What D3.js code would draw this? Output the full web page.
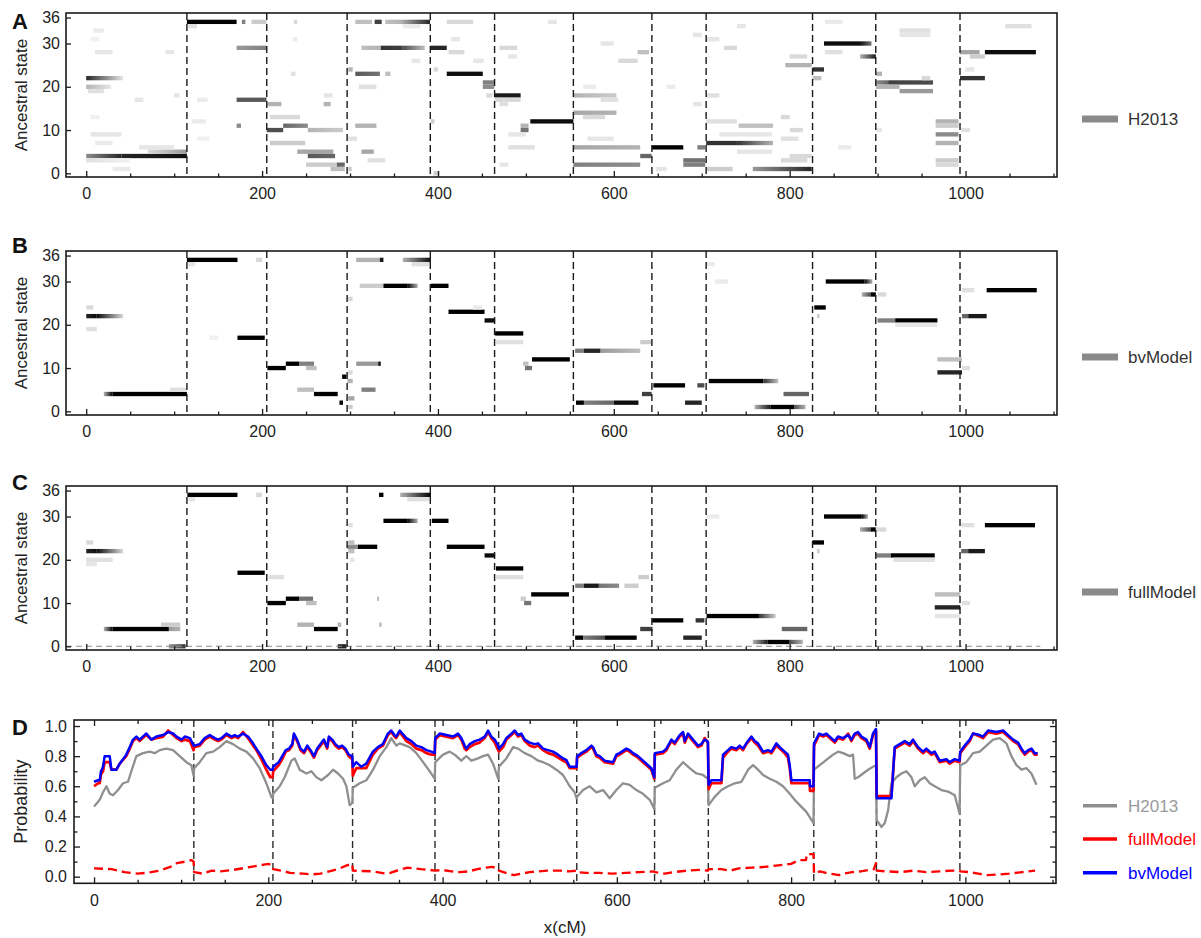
<!DOCTYPE html>
<html>
<head>
<meta charset="utf-8">
<script src="https://cdn.jsdelivr.net/npm/d3@7"></script>
<style>
  body { margin: 0; background: #fff; }
  svg { display: block; }
</style>
</head>
<body>
<svg id="chart" width="1201" height="938"></svg>
<script>
// ---------------- data ----------------
// chromosome boundaries (cM)
const boundaries = [114.5, 205.3, 296.7, 391.3, 464.4, 554, 643.3, 705, 826, 897.9, 993.7];
const xTickValues = [0, 200, 400, 600, 800, 1000];
const stateTickValues = [0, 10, 20, 30, 36];
const probTickValues = [0, 0.2, 0.4, 0.6, 0.8, 1.0];

// posterior of each ancestral state along the genome:
// [state, start cM, end cM, prob at start, prob at end]
const heatH2013 = [
  [22, 0, 42, .85, .1], [20, 0, 28, .3, .1], [19, 2, 20, .12, .12],
  [4, 0, 40, .45, .85], [4, 40, 114.5, .85, .95], [5, 70, 114.5, .15, .4], [3, 0, 50, .12, .05],
  [33, 8, 20, .08, .08], [31, 5, 15, .06, .06], [28, 10, 30, .1, .1], [28, 90, 100, .1, .1],
  [17, 55, 65, .1, .1], [13, 5, 15, .06, .06], [9, 5, 40, .1, .1], [7, 10, 30, .08, .08],
  [6, 60, 100, .1, .1], [1, 30, 50, .08, .08], [18, 100, 106, .1, .1],
  [35, 114.5, 171, 1, 1], [35, 177, 181, .5, .5], [35, 188, 205, .2, .2], [34, 116, 126, .12, .12],
  [29, 171, 205, .4, .5], [17, 171, 205, .65, .65], [11, 171, 176, .45, .45],
  [17, 126, 138, .08, .08], [12, 120, 136, .08, .08], [8, 126, 140, .06, .06],
  [16, 206, 222, .3, .3], [10, 205.3, 224, .7, .7], [11, 224, 252, .6, .45], [10, 252, 292, .3, .2],
  [13, 209, 243, .15, .15], [7, 209, 249, .2, .2], [5, 240, 281, .35, .35], [4, 252, 283, .65, .6],
  [2, 250, 285, .2, .2], [2, 285, 294, .6, .6], [1, 278, 294, .25, .25], [16, 270, 278, .3, .3],
  [18, 270, 280, .1, .1], [35, 236, 240, .15, .15], [31, 235, 240, .08, .08], [23, 233, 238, .12, .12],
  [35, 306, 325, .25, .25], [35, 328, 336, .75, .75], [35, 340, 358, .25, .3], [35, 358, 391, .3, .85],
  [34, 360, 380, .08, .08], [29, 313, 335, .25, .3], [29, 335, 360, .8, .75], [29, 360, 385, .7, .25],
  [23, 306, 334, .65, .55], [23, 340, 346, .25, .25], [24, 298, 303, .3, .3], [20, 310, 330, .12, .12],
  [11, 306, 330, .3, .3], [5, 313, 327, .35, .35], [3, 320, 340, .12, .12], [8, 298, 308, .12, .12],
  [1, 298, 302, .2, .2], [26, 370, 380, .1, .1],
  [29, 391.3, 410, .85, .85], [23, 410, 451, .95, .95], [21, 451, 464, .5, .5], [20, 451, 464, .45, .45],
  [35, 410, 440, .15, .15], [31, 415, 425, .1, .1], [28, 412, 430, .15, .15], [26, 440, 452, .1, .1],
  [24, 395, 400, .15, .15], [12, 392, 396, .2, .2], [0, 395, 402, .2, .2], [18, 455, 462, .15, .15],
  [18, 464.4, 494, .9, .9], [17, 464.4, 494, .15, .15], [11, 494, 503, .3, .3], [10, 494, 503, .55, .55],
  [12, 505, 554, .95, .95], [35, 525, 535, .1, .1], [29, 470, 490, .15, .15], [27, 480, 490, .1, .1],
  [16, 470, 480, .12, .12], [9, 480, 500, .1, .1], [6, 480, 510, .12, .12], [2, 470, 480, .1, .1],
  [18, 554, 603, .3, .2], [14, 554, 603, .35, .3], [6, 554, 630, .35, .3], [4, 630, 643, .6, .6],
  [2, 554, 630, .5, .45], [28, 627, 640, .25, .25], [26, 605, 627, .15, .15], [30, 585, 600, .1, .1],
  [17, 585, 605, .12, .12], [13, 565, 590, .15, .15], [8, 570, 600, .1, .1], [20, 565, 580, .08, .08],
  [6, 643.3, 679, 1, 1], [6, 695, 704, .5, .5], [3, 679, 704, .55, .55], [2, 679, 704, .5, .5],
  [32, 690, 700, .1, .1], [20, 660, 670, .08, .08], [16, 690, 700, .1, .1], [1, 648, 660, .1, .1],
  [7, 705, 740, .8, .8], [7, 740, 781, .8, .3], [11, 742, 781, .25, .25], [1, 705, 735, .2, .2],
  [1, 758, 825, .4, .85], [25, 795, 825, .3, .3], [29, 725, 740, .15, .15], [31, 705, 720, .1, .1],
  [34, 740, 750, .1, .1], [18, 705, 720, .12, .12], [12, 705, 740, .12, .12], [9, 720, 780, .1, .1],
  [5, 740, 780, .1, .1], [3, 790, 820, .15, .15], [4, 800, 825, .15, .15], [8, 790, 810, .12, .12],
  [10, 800, 815, .15, .15], [27, 800, 820, .15, .15], [13, 790, 800, .15, .15],
  [24, 826, 839, .8, .8], [30, 839, 880, .95, .95], [30, 880, 893, .95, .55], [27, 880, 898, .3, .9],
  [22, 826, 836, .25, .25], [35, 840, 860, .08, .08], [28, 840, 860, .12, .12], [6, 855, 870, .08, .08],
  [21, 898, 912, .45, .6], [21, 912, 963, .75, .7], [20, 898, 925, .3, .3], [19, 925, 963, .4, .4],
  [23, 898, 905, .3, .3], [33, 925, 960, .12, .12], [32, 925, 960, .1, .1], [22, 950, 960, .15, .15],
  [12, 966, 992, .3, .3], [11, 966, 992, .2, .2], [9, 966, 992, .45, .45], [7, 966, 992, .3, .3],
  [3, 966, 992, .2, .2], [2, 966, 992, .15, .15], [10, 898, 905, .1, .1],
  [28, 993.7, 1016, .35, .35], [27, 1005, 1022, .2, .2], [22, 993.7, 1022, .8, .8], [28, 1022, 1080, .95, .95],
  [34, 1045, 1075, .12, .12], [24, 1000, 1010, .1, .1], [10, 995, 1005, .12, .12]
];

const heatBvModel = [
  [22, 0, 12, .85, .95], [22, 12, 42, .95, .15], [24, 0, 8, .15, .15], [19, 0, 12, .12, .12],
  [4, 20, 30, .3, 1], [4, 30, 114.5, 1, 1], [5, 95, 114, .12, .12],
  [35, 114.5, 172, 1, 1], [35, 193, 200, .15, .15], [34, 116, 124, .1, .1],
  [17, 172, 203, 1, 1], [17, 140, 150, .06, .06],
  [10, 206, 227, 1, 1], [11, 227, 242, 1, 1], [11, 242, 259, .5, .5], [10, 250, 262, .25, .25],
  [5, 240, 259, .25, .25], [4, 259, 286, 1, 1], [2, 288, 292, 1, 1], [8, 291, 296, 1, 1],
  [35, 307, 334, .3, .3], [35, 334, 338, .9, .9], [35, 360, 392, .3, .95], [34, 370, 390, .12, .12],
  [29, 311, 338, .2, .2], [29, 338, 365, 1, 1], [29, 365, 377, 1, .3],
  [11, 307, 332, .4, .4], [11, 332, 335, .9, .9], [5, 313, 329, .5, .5],
  [26, 297, 303, .15, .15], [7, 297, 303, .3, .3], [3, 298, 305, .35, .35], [1, 298, 303, .2, .2], [9, 298, 303, .15, .15],
  [29, 392, 412, 1, 1], [23, 412, 453, 1, 1], [21, 453, 465, .95, .95], [24, 440, 450, .08, .08],
  [18, 465, 497, 1, 1], [16, 466, 497, .12, .12], [10, 499, 507, .55, .55], [11, 497, 503, .25, .25], [12, 507, 550, 1, 1],
  [14, 556, 566, .5, .5], [14, 566, 585, .85, .85], [14, 585, 630, .4, .25], [16, 630, 643, .2, .2],
  [2, 557, 566, 1, 1], [2, 566, 600, .5, .6], [2, 600, 628, .95, .95], [4, 632, 643, .75, .75],
  [6, 645, 681, 1, 1], [6, 695, 703, .7, .7], [2, 681, 700, .85, .85],
  [7, 708, 770, 1, 1], [7, 770, 787, .8, .25], [4, 793, 822, .6, .6],
  [1, 760, 778, .3, .9], [1, 778, 805, 1, 1], [1, 805, 818, .7, .3],
  [34, 705, 715, .08, .08], [30, 715, 730, .08, .08],
  [24, 828, 841, 1, 1], [22, 831, 834, .2, .2], [30, 841, 885, 1, 1], [30, 885, 894, 1, .3],
  [27, 882, 892, .3, .7], [27, 892, 898, 1, 1], [27, 900, 910, .15, .15],
  [21, 900, 920, .5, .5], [21, 920, 968, 1, 1], [20, 920, 968, .1, .1],
  [12, 968, 996, .25, .25], [9, 968, 996, .85, .85], [10, 996, 1005, .12, .12],
  [22, 996, 1003, .6, .6], [22, 1003, 1024, .9, .9], [28, 996, 1010, .12, .12], [28, 1024, 1081, 1, 1]
];

const heatFullModel = [
  [22, 0, 12, .85, .95], [22, 12, 42, .95, .15], [24, 0, 8, .15, .15], [20, 0, 30, .12, .12], [19, 0, 12, .1, .1],
  [4, 20, 30, .3, 1], [4, 30, 94, 1, 1], [4, 94, 107, .4, .3], [5, 85, 107, .2, .2], [0, 94, 113, .4, .8],
  [35, 115, 172, 1, 1], [35, 193, 200, .15, .15], [34, 116, 124, .1, .1], [17, 172, 203, 1, 1],
  [10, 206, 227, 1, 1], [11, 227, 242, 1, 1], [11, 242, 258, .55, .55], [10, 250, 262, .25, .25],
  [16, 207, 225, .12, .12], [5, 240, 259, .3, .3], [4, 259, 286, 1, 1], [5, 286, 290, .3, .3], [0, 286, 296, .85, .85],
  [23, 297, 309, .45, .45], [24, 298, 305, .25, .25], [22, 298, 305, .25, .25], [23, 309, 331, 1, 1],
  [35, 333, 338, 1, 1], [35, 357, 392, .3, 1], [34, 365, 390, .12, .12],
  [29, 338, 365, 1, 1], [29, 365, 377, 1, .3], [11, 331, 333, .3, .3], [5, 333, 336, .25, .25],
  [28, 298, 303, .12, .12], [20, 300, 305, .1, .1],
  [29, 393, 412, 1, 1], [23, 410, 453, 1, 1], [21, 453, 465, .95, .95],
  [18, 466, 497, 1, 1], [16, 466, 497, .12, .12], [11, 494, 500, .2, .2], [10, 498, 506, .55, .55], [12, 506, 549, 1, 1],
  [14, 556, 566, .5, .5], [14, 566, 583, .9, .9], [14, 583, 606, .55, .45], [14, 612, 628, .2, .2], [16, 628, 640, .2, .2],
  [2, 556, 565, 1, 1], [2, 565, 590, .5, .7], [2, 590, 626, 1, 1], [4, 630, 644, .75, .75],
  [6, 643.5, 679, 1, 1], [6, 693, 703, .8, .8], [2, 679, 700, .85, .85],
  [7, 705.5, 765, 1, 1], [7, 765, 784, .8, .2], [4, 791, 820, .6, .6],
  [1, 758, 775, .3, .9], [1, 775, 800, 1, 1], [1, 800, 815, .7, .3], [30, 705, 720, .08, .08],
  [24, 826, 839, 1, 1], [22, 831, 834, .2, .2], [30, 839, 882, 1, 1], [30, 882, 889, 1, .3],
  [27, 880, 892, .3, .7], [27, 892, 898, 1, 1], [27, 898, 910, .15, .15],
  [21, 898, 915, .5, .5], [21, 915, 965, 1, 1], [20, 918, 965, .12, .12],
  [12, 965, 994, .25, .25], [9, 965, 994, .85, .85], [7, 965, 994, .1, .1], [10, 996, 1005, .12, .12],
  [22, 995, 1003, .6, .6], [22, 1003, 1022, .9, .9], [28, 995, 1010, .12, .12], [28, 1022, 1079, 1, 1]
];

// probability of the called ancestral state: [cM, probability]
const probH2013 = [
  [0,.465],[6.5,.51],[10.3,.56],[14.2,.60],[18,.55],[21.8,.54],[27.5,.575],[33.3,.62],[39,.63],[42.8,.70],[48.6,.80],[56.2,.82],[63.9,.83],[69.6,.82],[75.4,.84],[83,.85],[90.7,.84],[98.3,.80],[106,.76],[111.7,.74],[114.3,.67],
  [114.9,.72],[121.3,.76],[128.9,.82],[136.6,.83],[144.2,.86],[151.9,.90],[159.5,.88],[167.2,.85],[174.8,.83],[182.5,.785],[190.1,.72],[197.8,.62],[203.5,.53],[205,.52],
  [205.6,.55],[213.1,.60],[218.8,.66],[226.5,.77],[230.3,.785],[236,.71],[243.7,.685],[249.4,.70],[255.2,.66],[260.9,.64],[268.6,.675],[274.3,.71],[280,.685],[285.8,.65],[289.6,.60],[293.4,.475],[296.4,.49],
  [297,.59],[304.9,.62],[312.5,.64],[320.2,.71],[327.9,.80],[335.5,.86],[341.2,.92],[347,.87],[350.8,.885],[362.3,.86],[369.9,.82],[377.6,.76],[385.2,.70],[391,.65],
  [391.6,.76],[400.5,.81],[408.2,.83],[413.9,.81],[421.5,.77],[427.3,.80],[433,.77],[440.7,.785],[446.4,.80],[452.2,.81],[457.9,.75],[463.8,.65],
  [464.7,.73],[473.2,.785],[480.9,.86],[486.6,.85],[494.3,.82],[501.9,.80],[509.6,.77],[515.3,.76],[523,.74],[530.6,.71],[538.2,.675],[545.9,.60],[551.6,.56],[553.8,.52],
  [554.4,.53],[561.2,.575],[568.9,.60],[576.5,.56],[584.2,.575],[591.8,.52],[599.4,.575],[607.1,.62],[614.8,.61],[622.4,.575],[630,.55],[637.7,.51],[643,.45],
  [643.6,.59],[653,.62],[660.7,.64],[668.3,.71],[676,.76],[683.6,.72],[691.3,.685],[698.9,.675],[704.5,.65],
  [705.3,.475],[712.3,.53],[720,.575],[727.6,.60],[735.3,.62],[743,.63],[750.6,.71],[756.3,.74],[762.1,.71],[767.8,.675],[775.4,.65],[783.1,.63],[790.7,.60],[798.4,.55],[804.1,.51],[809.9,.475],[817.5,.43],[825.7,.355],
  [826.3,.71],[832.8,.74],[840.5,.775],[848.1,.81],[853.9,.83],[859.6,.82],[867.3,.80],[871.1,.81],[873,.65],[876.8,.66],[882.6,.685],[888.3,.71],[894,.73],[897.4,.74],
  [898.2,.375],[903.6,.33],[907.4,.355],[911.3,.44],[915.1,.62],[920.8,.66],[926.6,.685],[932.3,.70],[938.1,.66],[941.9,.60],[947.6,.64],[953.4,.66],[959.1,.62],[964.8,.60],[972.5,.575],[980.1,.565],[987.8,.54],[993.3,.42],
  [994.1,.74],[1001.1,.76],[1008.8,.82],[1016.5,.83],[1024.1,.87],[1031.8,.91],[1039.4,.92],[1047.1,.885],[1052.8,.80],[1058.6,.74],[1064.4,.71],[1070.1,.72],[1075.8,.685],[1081.6,.61]
];

const probFullModel = [
  [0,.60],[4.6,.62],[6.5,.62],[8,.68],[10.3,.70],[12.2,.76],[18,.76],[19.9,.71],[25.6,.71],[29.5,.75],[37,.80],[41,.85],[44.7,.90],[48.6,.92],[52.4,.90],[56,.92],[60,.94],[65.8,.91],[71.6,.92],[79.2,.93],[85,.97],[90.8,.94],[94.7,.92],[100.4,.90],[104.2,.91],[110,.90],[114.2,.84],
  [114.9,.86],[121.3,.87],[127,.91],[132.8,.93],[138.5,.91],[142.4,.90],[146.2,.91],[152,.94],[157.7,.92],[161.5,.93],[165.3,.92],[171,.96],[176.7,.92],[182.5,.87],[186.3,.84],[192,.78],[197.7,.71],[202.3,.66],[205,.66],
  [205.6,.70],[212,.74],[216,.78],[220,.83],[223.7,.84],[227.5,.87],[229.4,.94],[233,.90],[237,.84],[241,.82],[244.7,.86],[248.5,.83],[252.3,.79],[256,.84],[263.8,.90],[267.6,.85],[269.5,.92],[273.3,.90],[277,.87],[281,.85],[284.7,.86],[288.5,.84],[292.3,.80],[296.4,.78],
  [297,.67],[300.9,.72],[306.6,.72],[312.4,.72],[320,.81],[325.7,.85],[331.5,.87],[337.2,.94],[341,.96],[344.8,.93],[346.7,.92],[350.8,.96],[358.5,.90],[364.2,.88],[370,.85],[375.7,.84],[381.4,.82],[387.2,.81],[391,.81],
  [391.6,.91],[396.7,.94],[404.4,.93],[412,.92],[417.7,.94],[421.5,.91],[425.4,.85],[427.3,.84],[431.1,.86],[436.9,.88],[442.6,.89],[448.4,.92],[452.2,.96],[456,.92],[459.9,.89],[463.8,.84],
  [464.7,.83],[469.4,.86],[473.2,.91],[479,.94],[482.8,.96],[486.6,.93],[490.4,.94],[494.3,.90],[500,.87],[505.7,.86],[509.6,.87],[515.3,.84],[521,.82],[526.8,.81],[532.5,.79],[538.2,.77],[542,.76],[545.9,.72],[553.8,.72],
  [554.4,.79],[559.3,.81],[565,.83],[570.8,.86],[572.7,.85],[576.5,.80],[580.3,.79],[586,.76],[595.6,.75],[599.4,.80],[603.2,.81],[610.9,.84],[614.7,.83],[618.6,.81],[624.3,.79],[630,.76],[635.8,.73],[639.6,.71],[643,.65],
  [643.6,.81],[653,.82],[656.9,.84],[662.6,.90],[666.4,.88],[672.1,.93],[676,.95],[677.9,.89],[681.7,.94],[687.4,.90],[693.2,.86],[697,.87],[700.8,.92],[704.5,.89],
  [705.3,.58],[708.5,.62],[720,.62],[721.9,.79],[727.6,.83],[731.4,.85],[737.2,.84],[741,.86],[744.8,.84],[748.6,.88],[754.4,.92],[758.2,.89],[762,.87],[767.8,.82],[773.5,.83],[777.4,.82],[783.1,.87],[786.9,.85],[792.6,.82],[796.4,.79],[798.4,.72],[800.3,.62],[809.9,.62],[821.4,.62],[821.6,.57],[825.7,.57],
  [826.3,.87],[832.1,.94],[836.7,.93],[840.5,.94],[846.2,.91],[850.1,.89],[853.9,.92],[859.6,.91],[865.4,.95],[869.2,.90],[873,.94],[876.8,.95],[880.7,.92],[886.4,.90],[890.2,.85],[894,.94],[897.4,.97],
  [898.2,.535],[915.1,.535],[918.9,.85],[924.6,.87],[930.4,.89],[936.1,.87],[939.9,.90],[945.7,.85],[951.4,.82],[955.2,.84],[961,.81],[964.8,.82],[970.5,.76],[978.2,.77],[982,.75],[987.7,.77],[993.3,.76],
  [994.1,.82],[999.2,.86],[1005,.90],[1008.8,.95],[1016.5,.93],[1020.3,.92],[1026.1,.96],[1035.6,.95],[1043.3,.96],[1049,.93],[1054.8,.90],[1060.5,.88],[1064.4,.84],[1068.2,.81],[1072,.83],[1075.8,.84],[1079.7,.81],[1083,.81]
];

const probBvModel = [
  [0,.63],[4.6,.64],[6.5,.64],[8,.70],[10.3,.73],[12.2,.80],[18,.80],[19.9,.71],[25.6,.71],[29.5,.75],[37,.81],[41,.86],[44.7,.91],[48.6,.93],[52.4,.91],[56,.93],[60,.95],[65.8,.91],[71.6,.93],[79.2,.94],[85,.96],[90.8,.95],[94.7,.93],[100.4,.91],[104.2,.93],[110,.92],[114.2,.87],
  [114.9,.87],[121.3,.88],[127,.92],[132.8,.94],[138.5,.92],[142.4,.91],[146.2,.92],[152,.95],[157.7,.93],[161.5,.94],[165.3,.93],[171,.95],[176.7,.93],[182.5,.885],[186.3,.85],[192,.80],[197.7,.74],[202.3,.71],[205,.71],
  [205.6,.73],[212,.76],[216,.80],[220,.84],[223.7,.85],[227.5,.88],[229.4,.95],[233,.91],[237,.85],[241,.83],[244.7,.87],[248.5,.84],[252.3,.80],[256,.85],[263.8,.91],[267.6,.86],[269.5,.93],[273.3,.91],[277,.88],[281,.86],[284.7,.87],[288.5,.85],[292.3,.81],[296.4,.80],
  [297,.73],[300.9,.76],[306.6,.73],[312.4,.75],[320,.83],[325.7,.86],[331.5,.88],[337.2,.95],[341,.97],[344.8,.94],[346.7,.93],[350.8,.97],[358.5,.92],[364.2,.90],[370,.87],[375.7,.86],[381.4,.84],[387.2,.83],[391,.82],
  [391.6,.92],[396.7,.95],[404.4,.94],[412,.93],[417.7,.95],[421.5,.92],[425.4,.87],[427.3,.85],[431.1,.88],[436.9,.90],[442.6,.91],[448.4,.93],[452.2,.97],[456,.93],[459.9,.91],[463.8,.87],
  [464.7,.85],[469.4,.88],[473.2,.92],[479,.95],[482.8,.97],[486.6,.94],[490.4,.95],[494.3,.91],[500,.89],[505.7,.88],[509.6,.885],[515.3,.85],[521,.84],[526.8,.83],[532.5,.81],[538.2,.785],[542,.775],[545.9,.73],[553.8,.73],
  [554.4,.80],[559.3,.82],[565,.84],[570.8,.87],[572.7,.86],[576.5,.81],[580.3,.80],[586,.77],[595.6,.76],[599.4,.81],[603.2,.82],[610.9,.85],[614.7,.84],[618.6,.82],[624.3,.80],[630,.77],[635.8,.74],[639.6,.72],[643,.66],
  [643.6,.82],[653,.83],[656.9,.85],[662.6,.91],[666.4,.89],[672.1,.94],[676,.96],[677.9,.90],[681.7,.95],[687.4,.91],[693.2,.87],[697,.88],[700.8,.91],[704.5,.895],
  [705.3,.61],[708.5,.64],[720,.64],[721.9,.81],[727.6,.84],[731.4,.86],[737.2,.85],[741,.87],[744.8,.85],[748.6,.885],[754.4,.93],[758.2,.90],[762,.885],[767.8,.83],[773.5,.84],[777.4,.83],[783.1,.885],[786.9,.86],[792.6,.83],[796.4,.81],[798.4,.74],[800.3,.64],[809.9,.64],[821.4,.64],[821.6,.60],[825.7,.60],
  [826.3,.885],[832.1,.95],[836.7,.94],[840.5,.95],[846.2,.92],[850.1,.90],[853.9,.93],[859.6,.92],[865.4,.94],[869.2,.91],[873,.95],[876.8,.96],[880.7,.93],[886.4,.91],[890.2,.86],[894,.95],[897.4,.98],
  [898.2,.52],[915.1,.52],[918.9,.86],[924.6,.88],[930.4,.90],[936.1,.88],[939.9,.91],[945.7,.86],[951.4,.83],[955.2,.85],[961,.82],[964.8,.83],[970.5,.77],[978.2,.78],[982,.76],[987.7,.78],[993.3,.77],
  [994.1,.83],[999.2,.87],[1005,.91],[1008.8,.95],[1016.5,.94],[1020.3,.93],[1026.1,.97],[1035.6,.96],[1043.3,.97],[1049,.94],[1054.8,.91],[1060.5,.89],[1064.4,.85],[1068.2,.82],[1072,.84],[1075.8,.85],[1079.7,.82],[1083,.82]
];

// fullModel: probability of the runner-up state (dashed)
const probFullModelAlt = [
  [0,.055],[20,.05],[35,.03],[50,.02],[60,.025],[75,.04],[85,.06],[90,.07],[95,.09],[105,.10],[112,.11],[114.3,.10],
  [114.9,.03],[125,.02],[135,.04],[145,.035],[160,.045],[175,.06],[185,.07],[195,.08],[200,.085],[205,.075],
  [205.6,.05],[215,.04],[225,.025],[240,.02],[250,.015],[260,.02],[270,.035],[280,.05],[290,.075],[296.4,.085],
  [297,.04],[320,.035],[335,.02],[340,.025],[350,.045],[360,.06],[375,.05],[385,.045],[391,.04],
  [391.6,.04],[400,.045],[410,.035],[420,.03],[430,.035],[440,.05],[450,.06],[457,.065],[463.8,.055],
  [464.7,.04],[475,.02],[482,.01],[490,.02],[500,.03],[510,.035],[520,.04],[535,.04],[545,.035],[553.8,.04],
  [554.4,.03],[565,.025],[580,.025],[595,.02],[610,.025],[625,.03],[643,.035],
  [643.6,.03],[655,.02],[665,.03],[680,.04],[695,.045],[704.5,.04],
  [705.3,.05],[720,.05],[730,.04],[740,.055],[755,.06],[770,.065],[785,.075],[800,.085],[809,.11],[817,.11],[818,.15],[825.7,.15],
  [826.3,.02],[833,.035],[840,.025],[850,.015],[855,.01],[860,.02],[870,.03],[880,.035],[890,.045],[895,.05],[897.4,.09],
  [898.2,.04],[910,.035],[925,.03],[940,.04],[955,.03],[970,.035],[985,.04],[993.3,.04],
  [994.1,.035],[1005,.03],[1015,.02],[1025,.01],[1040,.015],[1050,.02],[1065,.03],[1080,.04]
];

// ---------------- drawing ----------------
const FONT = '"Liberation Sans", Arial, Helvetica, sans-serif';
const svg = d3.select("#chart");
const defs = svg.append("defs");
const xDomain = [-23, 1104];
const stateDomain = [-0.85, 37.05];
const shade = d3.interpolateRgb("#ffffff", "#000000");
const xMinorValues = d3.range(0, 1101, 50).filter(v => v % 200 !== 0);

function styleAxis(g) {
  g.select(".domain").remove();
  g.attr("font-family", FONT).attr("font-size", 16).attr("color", "#1a1a1a");
  g.selectAll("line").attr("stroke-width", 1.3);
  g.selectAll("text").attr("fill", "#222");
}

const heatPanels = [
  { letter: "A", top: 13,  letterY: 29,  segs: heatH2013,     legend: "H2013",     zeroLine: false },
  { letter: "B", top: 251, letterY: 253, segs: heatBvModel,   legend: "bvModel",   zeroLine: false },
  { letter: "C", top: 486, letterY: 490, segs: heatFullModel, legend: "fullModel", zeroLine: true }
];
const heatLeft = 66, heatRight = 1057, heatH = 164;

heatPanels.forEach((P, pi) => {
  const x = d3.scaleLinear().domain(xDomain).range([heatLeft, heatRight]);
  const y = d3.scaleLinear().domain(stateDomain).range([P.top + heatH, P.top]);
  const g = svg.append("g");
  const clipId = "heatclip" + pi;
  defs.append("clipPath").attr("id", clipId).append("rect")
    .attr("x", heatLeft).attr("y", P.top).attr("width", heatRight - heatLeft).attr("height", heatH);

  const cells = g.append("g").attr("clip-path", `url(#${clipId})`);
  P.segs.forEach((s, i) => {
    const [state, x0, x1, p0, p1] = s;
    let fill;
    if (p0 === p1) {
      fill = shade(p0);
    } else {
      const id = `fade${pi}_${i}`;
      const lg = defs.append("linearGradient").attr("id", id)
        .attr("x1", "0").attr("x2", "1").attr("y1", "0").attr("y2", "0");
      lg.append("stop").attr("offset", "0").attr("stop-color", shade(p0));
      lg.append("stop").attr("offset", "1").attr("stop-color", shade(p1));
      fill = `url(#${id})`;
    }
    cells.append("rect")
      .attr("x", x(x0)).attr("width", x(x1) - x(x0))
      .attr("y", y(state + 0.5)).attr("height", y(state - 0.5) - y(state + 0.5))
      .attr("fill", fill);
  });

  if (P.zeroLine) {
    cells.append("line")
      .attr("x1", x(xDomain[0])).attr("x2", x(1085))
      .attr("y1", y(0)).attr("y2", y(0))
      .attr("stroke", "#8a8a8a").attr("stroke-width", 1.1).attr("stroke-dasharray", "6,4");
  }

  g.append("g").selectAll("line").data(boundaries).join("line")
    .attr("x1", d => x(d)).attr("x2", d => x(d))
    .attr("y1", P.top).attr("y2", P.top + heatH)
    .attr("stroke", "#1a1a1a").attr("stroke-width", 1.4).attr("stroke-dasharray", "7,4");

  g.append("g").attr("transform", `translate(0,${P.top + heatH})`)
    .call(d3.axisBottom(x).tickValues(xTickValues).tickSize(-6).tickPadding(11).tickFormat(d3.format("d")))
    .call(styleAxis);
  g.append("g").attr("transform", `translate(0,${P.top + heatH})`)
    .call(d3.axisBottom(x).tickValues(xMinorValues).tickSize(-3.5).tickFormat(""))
    .call(styleAxis);
  g.append("g").attr("transform", `translate(${heatLeft},0)`)
    .call(d3.axisLeft(y).tickValues(stateTickValues).tickSize(-5).tickPadding(6).tickFormat(d3.format("d")))
    .call(styleAxis);

  g.append("rect").attr("x", heatLeft).attr("y", P.top)
    .attr("width", heatRight - heatLeft).attr("height", heatH)
    .attr("fill", "none").attr("stroke", "#1a1a1a").attr("stroke-width", 1.6);

  g.append("text").attr("transform", `translate(26.5,${P.top + heatH / 2}) rotate(-90)`)
    .attr("text-anchor", "middle").attr("font-family", FONT).attr("font-size", 17).attr("fill", "#222")
    .text("Ancestral state");
  g.append("text").attr("x", 12).attr("y", P.letterY)
    .attr("font-family", FONT).attr("font-size", 22).attr("font-weight", "bold").attr("fill", "#111")
    .text(P.letter);

  const ly = P.top + 106;
  g.append("rect").attr("x", 1082).attr("y", ly - 3.5).attr("width", 36).attr("height", 7).attr("fill", "#8a8a8a");
  g.append("text").attr("x", 1128).attr("y", ly + 6)
    .attr("font-family", FONT).attr("font-size", 17).attr("fill", "#333")
    .text(P.legend);
});

// ---- panel D: probability of the called state ----
{
  const L = 74, R = 1056, T = 720, B = 883.3;
  const x = d3.scaleLinear().domain(xDomain).range([L, R]);
  const y = d3.scaleLinear().domain([-0.044, 1.04]).range([B, T]);
  const g = svg.append("g");
  defs.append("clipPath").attr("id", "probclip").append("rect")
    .attr("x", L).attr("y", T).attr("width", R - L).attr("height", B - T);

  g.append("g").selectAll("line").data(boundaries).join("line")
    .attr("x1", d => x(d)).attr("x2", d => x(d))
    .attr("y1", T).attr("y2", B)
    .attr("stroke", "#2a2a2a").attr("stroke-width", 1.4).attr("stroke-dasharray", "7,4");

  const line = d3.line().x(d => x(d[0])).y(d => y(d[1]));
  const plot = g.append("g").attr("clip-path", "url(#probclip)");
  const series = [
    { data: probH2013,        color: "#8f8f8f", width: 2.3, dash: null },
    { data: probFullModelAlt, color: "#ff0000", width: 2.4, dash: "9,5" },
    { data: probFullModel,    color: "#ff0000", width: 2.7, dash: null },
    { data: probBvModel,      color: "#0000ff", width: 2.5, dash: null }
  ];
  series.forEach(s => {
    plot.append("path").datum(s.data)
      .attr("d", line).attr("fill", "none")
      .attr("stroke", s.color).attr("stroke-width", s.width)
      .attr("stroke-linejoin", "round")
      .attr("stroke-dasharray", s.dash);
  });

  const probMinor = d3.range(0.1, 1.0, 0.2);
  g.append("g").attr("transform", `translate(0,${B})`)
    .call(d3.axisBottom(x).tickValues(xTickValues).tickSize(-6).tickPadding(11).tickFormat(d3.format("d")))
    .call(styleAxis);
  g.append("g").attr("transform", `translate(0,${B})`)
    .call(d3.axisBottom(x).tickValues(xMinorValues).tickSize(-3.5).tickFormat(""))
    .call(styleAxis);
  g.append("g").attr("transform", `translate(0,${T})`)
    .call(d3.axisTop(x).tickValues(xTickValues).tickSize(-6).tickFormat(""))
    .call(styleAxis);
  g.append("g").attr("transform", `translate(0,${T})`)
    .call(d3.axisTop(x).tickValues(xMinorValues).tickSize(-4).tickFormat(""))
    .call(styleAxis);
  g.append("g").attr("transform", `translate(${L},0)`)
    .call(d3.axisLeft(y).tickValues(probTickValues).tickSize(-6).tickPadding(7).tickFormat(d3.format(".1f")))
    .call(styleAxis);
  g.append("g").attr("transform", `translate(${L},0)`)
    .call(d3.axisLeft(y).tickValues(probMinor).tickSize(-3.5).tickFormat(""))
    .call(styleAxis);
  g.append("g").attr("transform", `translate(${R},0)`)
    .call(d3.axisRight(y).tickValues(probTickValues).tickSize(-6).tickFormat(""))
    .call(styleAxis);
  g.append("g").attr("transform", `translate(${R},0)`)
    .call(d3.axisRight(y).tickValues(probMinor).tickSize(-3.5).tickFormat(""))
    .call(styleAxis);

  g.append("rect").attr("x", L).attr("y", T).attr("width", R - L).attr("height", B - T)
    .attr("fill", "none").attr("stroke", "#1a1a1a").attr("stroke-width", 1.6);

  g.append("text").attr("transform", `translate(27,${(T + B) / 2}) rotate(-90)`)
    .attr("text-anchor", "middle").attr("font-family", FONT).attr("font-size", 18).attr("fill", "#222")
    .text("Probability");
  g.append("text").attr("x", (L + R) / 2).attr("y", 933)
    .attr("text-anchor", "middle").attr("font-family", FONT).attr("font-size", 17).attr("fill", "#222")
    .text("x(cM)");
  g.append("text").attr("x", 12).attr("y", 735)
    .attr("font-family", FONT).attr("font-size", 22).attr("font-weight", "bold").attr("fill", "#111")
    .text("D");

  const legendItems = [
    { name: "H2013",     color: "#8f8f8f", text: "#9a9a9a", y: 805.7 },
    { name: "fullModel", color: "#ff0000", text: "#ff0000", y: 839 },
    { name: "bvModel",   color: "#0000ff", text: "#0000ff", y: 872.7 }
  ];
  const lg = g.append("g");
  legendItems.forEach(d => {
    lg.append("line").attr("x1", 1083).attr("x2", 1117).attr("y1", d.y).attr("y2", d.y)
      .attr("stroke", d.color).attr("stroke-width", 3.5);
    lg.append("text").attr("x", 1128).attr("y", d.y + 6)
      .attr("font-family", FONT).attr("font-size", 17).attr("fill", d.text)
      .text(d.name);
  });
}
</script>
</body>
</html>
